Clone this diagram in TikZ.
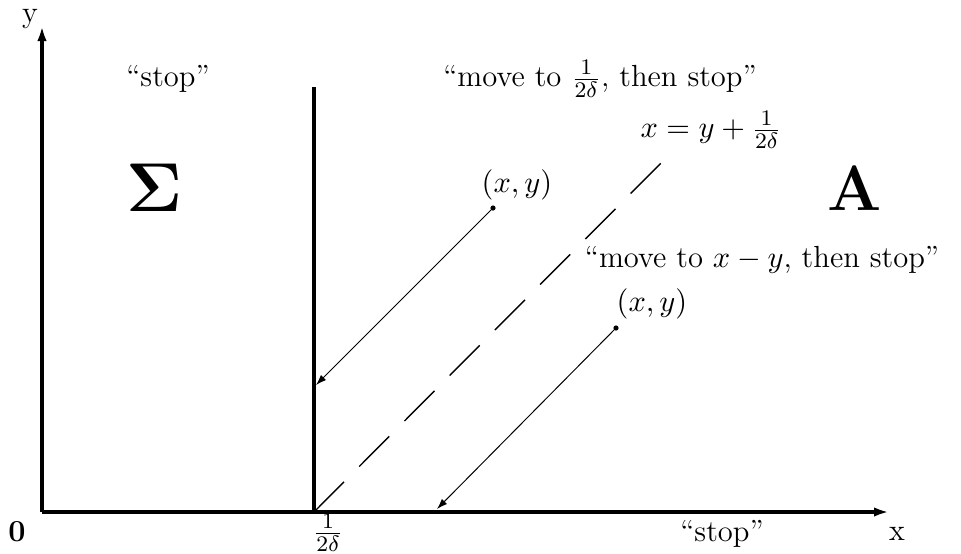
\documentclass[tikz,border=0pt]{standalone}
\usepackage{amsmath}
\usetikzlibrary{arrows.meta}
\begin{document}
\begin{tikzpicture}[x=0.36pt,y=-0.36pt,
  axis/.style={line width=1.4pt},
  axisarrow/.style={axis,-{Latex[length=5.4pt,width=3.4pt]}},
  flow/.style={line width=0.35pt,-{Latex[length=3.8pt,width=2.6pt]}},
  border/.style={line width=1.4pt},
  diag/.style={line width=0.5pt,dash pattern=on 15.3pt off 7.8pt},
  lbl/.style={inner sep=0pt,font=\fontsize{11}{13}\selectfont},
  big/.style={inner sep=0pt,font=\fontsize{23}{28}\selectfont}]
\useasboundingbox (0,0) rectangle (961,553);
\coordinate (O) at (42,512);
\coordinate (X) at (889,512);
\coordinate (Y) at (42,26);
\coordinate (B) at (314,512);
\coordinate (T) at (314,87);
\coordinate (D) at (662,162);
\coordinate (P1) at (493,208);
\coordinate (Q1) at (316,385);
\coordinate (P2) at (616,328);
\coordinate (Q2) at (437,509);
\draw[axisarrow] (O) -- (X);
\draw[axisarrow] (O) -- (Y);
\draw[border] (B) -- (T);
\draw[diag] (B) -- (D);
\draw[flow] (P1) -- (Q1);
\draw[flow] (P2) -- (Q2);
\fill (P1) circle[radius=2.6];
\fill (P2) circle[radius=2.6];
\node[lbl] (ylab) at (30,19) {y};
\node[lbl] (xlab) at (897,534) {x};
\node[lbl] (zero) at (17,532) {\textbf{0}};
\node[lbl] (half) at (328,533) {$\frac{1}{2\delta}$};
\node[lbl] (stopL) at (168,79) {``stop''};
\node[lbl] (stopT) at (600,79) {``move to $\frac{1}{2\delta}$, then stop''};
\node[lbl] (diaglab) at (711,130) {$x = y + \frac{1}{2\delta}$};
\node[lbl] (p1lab) at (517,185) {$(x,y)$};
\node[lbl] (p2lab) at (652,304) {$(x,y)$};
\node[lbl] (movelab) at (762,260) {``move to $x-y$, then stop''};
\node[lbl] (stopB) at (722,534) {``stop''};
\node[big] (sig) at (155,188) {$\mathbf{\Sigma}$};
\node[big] (A) at (855,188) {\textbf{A}};
\end{tikzpicture}
\end{document}
